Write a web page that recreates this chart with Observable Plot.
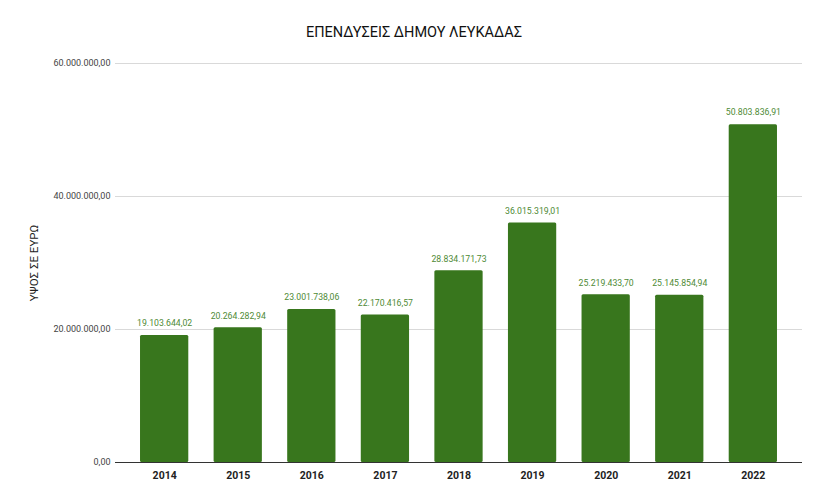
<!DOCTYPE html>
<html>
<head>
<meta charset="utf-8">
<script src="https://cdn.jsdelivr.net/npm/d3@7"></script>
<script src="https://cdn.jsdelivr.net/npm/@observablehq/plot@0.6"></script>
<style>
  html, body { margin: 0; padding: 0; background: #fff; }
  #title { width: 828px; height: 26px; padding-top: 24px; line-height: 18px; text-align: center;
           font-family: Roboto, "Noto Sans", sans-serif; font-size: 14.5px; color: #111; }
  #chart svg { display: block; }
</style>
</head>
<body>
<div id="title">ΕΠΕΝΔΥΣΕΙΣ ΔΗΜΟΥ ΛΕΥΚΑΔΑΣ</div>
<div id="chart"></div>
<script>
const years = ["2014", "2015", "2016", "2017", "2018", "2019", "2020", "2021", "2022"];
const amounts = [19103644.02, 20264282.94, 23001738.06, 22170416.57, 28834171.73, 36015319.01, 25219433.70, 25145854.94, 50803836.91];
const yTicks = [0, 20000000, 40000000, 60000000];
const yLabel = "ΥΨΟΣ ΣΕ ΕΥΡΩ";

const locale = d3.formatLocale({decimal: ",", thousands: ".", grouping: [3], currency: ["", "€"]});
const fmt = locale.format(",.2f");

const data = years.map((y, i) => ({year: y, amount: amounts[i]}));

const chart = Plot.plot({
  width: 828,
  height: 454,
  marginTop: 13,
  marginBottom: 42,
  marginLeft: 115,
  marginRight: 26,
  style: {fontFamily: "Roboto, 'Noto Sans', sans-serif", background: "#fff"},
  x: {domain: years, paddingInner: 0.344, paddingOuter: 0.34, round: false, label: null},
  y: {domain: [0, 60000000], label: null},
  marks: [
    Plot.ruleY(yTicks.slice(1), {stroke: "#d9d9d9", strokeWidth: 1, strokeOpacity: 1}),
    Plot.barY(data, {x: "year", y: "amount", fill: "#38761d", rx: 1.5}),
    Plot.ruleY([0], {stroke: "#333", strokeWidth: 1}),
    Plot.text(data, {x: "year", y: "amount", text: d => fmt(d.amount), dy: -12, fill: "#4e8a35", fontSize: 8.7}),
    Plot.axisY({ticks: yTicks, tickFormat: fmt, tickSize: 0, tickPadding: 5, fontSize: 9, color: "#444", label: null}),
    Plot.axisX({tickSize: 0, tickPadding: 9, fontSize: 10.5, fontWeight: "bold", color: "#222", label: null}),
    Plot.text([yLabel], {frameAnchor: "left", textAnchor: "middle", rotate: -90, dx: -81, fontSize: 11.5, fill: "#222", text: d => d, style: {letterSpacing: "0.6px", wordSpacing: "3px"}})
  ]
});
document.getElementById("chart").appendChild(chart);
</script>
</body>
</html>
